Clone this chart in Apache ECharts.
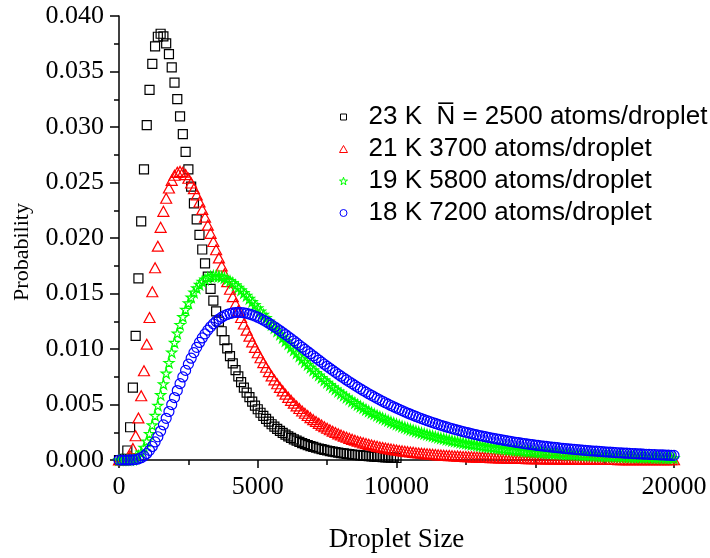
<!DOCTYPE html>
<html>
<head>
<meta charset="utf-8">
<script src="https://cdn.jsdelivr.net/npm/echarts@6/dist/echarts.min.js"></script>
<style>
  html, body { margin: 0; padding: 0; background: #fff; }
  #chart { width: 710px; height: 558px; }
</style>
</head>
<body>
<div id="chart"></div>
<script>
// Droplet size axis (atoms), sampled every 100 atoms
const dropletSize = [
  0,100,200,300,400,500,600,700,800,900,1000,1100,1200,1300,1400,1500,1600,1700,1800,1900,
  2000,2100,2200,2300,2400,2500,2600,2700,2800,2900,3000,3100,3200,3300,3400,3500,3600,3700,3800,3900,
  4000,4100,4200,4300,4400,4500,4600,4700,4800,4900,5000,5100,5200,5300,5400,5500,5600,5700,5800,5900,
  6000,6100,6200,6300,6400,6500,6600,6700,6800,6900,7000,7100,7200,7300,7400,7500,7600,7700,7800,7900,
  8000,8100,8200,8300,8400,8500,8600,8700,8800,8900,9000,9100,9200,9300,9400,9500,9600,9700,9800,9900,
  10000,10100,10200,10300,10400,10500,10600,10700,10800,10900,11000,11100,11200,11300,11400,11500,11600,11700,11800,11900,
  12000,12100,12200,12300,12400,12500,12600,12700,12800,12900,13000,13100,13200,13300,13400,13500,13600,13700,13800,13900,
  14000,14100,14200,14300,14400,14500,14600,14700,14800,14900,15000,15100,15200,15300,15400,15500,15600,15700,15800,15900,
  16000,16100,16200,16300,16400,16500,16600,16700,16800,16900,17000,17100,17200,17300,17400,17500,17600,17700,17800,17900,
  18000,18100,18200,18300,18400,18500,18600,18700,18800,18900,19000,19100,19200,19300,19400,19500,19600,19700,19800,19900,
  20000
];

// 23 K source, mean 2500 atoms/droplet (0 .. 10000)
const prob23K = [
  0,0,0.000099,0.000856,0.002952,0.006527,0.011191,0.016364,0.021495,0.026178,
  0.030163,0.033342,0.035692,0.037263,0.038132,0.0384,0.038166,0.037527,0.036571,0.035375,
  0.034006,0.032519,0.030959,0.029364,0.027762,0.026177,0.024625,0.023121,0.021672,0.020284,
  0.018964,0.017711,0.016527,0.015413,0.014365,0.013381,0.012461,0.0116,0.010797,0.010048,
  0.00935,0.0087,0.008096,0.007534,0.007011,0.006526,0.006075,0.005656,0.005267,0.004906,
  0.00457,0.004259,0.003969,0.003701,0.003451,0.00322,0.003004,0.002804,0.002618,0.002445,
  0.002285,0.002135,0.001996,0.001867,0.001746,0.001634,0.001529,0.001432,0.001341,0.001257,
  0.001178,0.001104,0.001036,0.000972,0.000912,0.000856,0.000804,0.000755,0.000709,0.000667,
  0.000627,0.00059,0.000555,0.000522,0.000492,0.000463,0.000436,0.000411,0.000387,0.000365,
  0.000344,0.000325,0.000306,0.000289,0.000273,0.000258,0.000243,0.00023,0.000217,0.000206,
  0.000195
];

// 21 K source, 3700 atoms/droplet
const prob21K = [
  0,0,0.000006,0.000077,0.000364,0.001036,0.00218,0.003791,0.005786,0.008044,
  0.010436,0.01284,0.01516,0.017317,0.019262,0.020962,0.022403,0.023582,0.024507,0.025192,
  0.025656,0.025918,0.026,0.025925,0.025712,0.025383,0.024956,0.024447,0.023872,0.023243,
  0.022575,0.021876,0.021156,0.020423,0.019685,0.018944,0.018209,0.017482,0.016767,0.016067,
  0.015383,0.014717,0.014071,0.013445,0.01284,0.012257,0.011695,0.011155,0.010637,0.01014,
  0.009664,0.009208,0.008772,0.008356,0.007957,0.007577,0.007215,0.00687,0.006541,0.006228,
  0.00593,0.005645,0.005375,0.005118,0.004873,0.00464,0.004419,0.004208,0.004007,0.003817,
  0.003636,0.003464,0.0033,0.003144,0.002997,0.002856,0.002722,0.002595,0.002474,0.002359,
  0.00225,0.002146,0.002047,0.001953,0.001863,0.001778,0.001697,0.00162,0.001547,0.001477,
  0.001411,0.001347,0.001287,0.00123,0.001175,0.001123,0.001073,0.001026,0.000981,0.000938,
  0.000897,0.000858,0.000821,0.000786,0.000752,0.00072,0.000689,0.00066,0.000632,0.000605,
  0.00058,0.000555,0.000532,0.00051,0.000489,0.000468,0.000449,0.000431,0.000413,0.000396,
  0.00038,0.000364,0.00035,0.000336,0.000322,0.000309,0.000297,0.000285,0.000274,0.000263,
  0.000253,0.000243,0.000233,0.000224,0.000215,0.000207,0.000199,0.000191,0.000184,0.000177,
  0.00017,0.000164,0.000158,0.000152,0.000146,0.00014,0.000135,0.00013,0.000125,0.000121,
  0.000116,0.000112,0.000108,0.000104,0.0001,0.000096,0.000093,0.00009,0.000086,0.000083,
  0.00008,0.000077,0.000075,0.000072,0.000069,0.000067,0.000065,0.000062,0.00006,0.000058,
  0.000056,0.000054,0.000052,0.00005,0.000049,0.000047,0.000045,0.000044,0.000042,0.000041,
  0.00004,0.000038,0.000037,0.000036,0.000035,0.000033,0.000032,0.000031,0.00003,0.000029,
  0.000028,0.000027,0.000026,0.000026,0.000025,0.000024,0.000023,0.000022,0.000022,0.000021,
  0.00002
];

// 19 K source, 5800 atoms/droplet
const prob19K = [
  0,0,0,0.000002,0.000018,0.000066,0.000178,0.00038,0.000695,0.001132,
  0.001692,0.002367,0.003142,0.003997,0.004913,0.005867,0.00684,0.007813,0.008769,0.009695,
  0.010579,0.011413,0.01219,0.012904,0.013554,0.014137,0.014653,0.015102,0.015487,0.015809,
  0.016072,0.016277,0.016429,0.016531,0.016587,0.016599,0.016572,0.016509,0.016412,0.016287,
  0.016134,0.015958,0.01576,0.015544,0.015312,0.015065,0.014807,0.014538,0.014261,0.013977,
  0.013688,0.013395,0.013099,0.012801,0.012503,0.012204,0.011906,0.01161,0.011316,0.011025,
  0.010737,0.010453,0.010172,0.009896,0.009625,0.009358,0.009096,0.00884,0.008589,0.008343,
  0.008102,0.007868,0.007638,0.007415,0.007196,0.006984,0.006776,0.006574,0.006378,0.006187,
  0.006001,0.00582,0.005645,0.005474,0.005308,0.005147,0.00499,0.004838,0.004691,0.004548,
  0.004409,0.004274,0.004144,0.004017,0.003894,0.003775,0.00366,0.003548,0.00344,0.003335,
  0.003233,0.003134,0.003038,0.002946,0.002856,0.002769,0.002685,0.002603,0.002524,0.002448,
  0.002374,0.002302,0.002232,0.002165,0.0021,0.002037,0.001976,0.001916,0.001859,0.001803,
  0.001749,0.001697,0.001647,0.001598,0.00155,0.001504,0.00146,0.001417,0.001375,0.001335,
  0.001296,0.001257,0.001221,0.001185,0.001151,0.001117,0.001085,0.001053,0.001023,0.000993,
  0.000965,0.000937,0.00091,0.000884,0.000859,0.000834,0.00081,0.000787,0.000765,0.000743,
  0.000722,0.000702,0.000682,0.000663,0.000645,0.000627,0.000609,0.000592,0.000576,0.00056,
  0.000544,0.000529,0.000515,0.000501,0.000487,0.000474,0.000461,0.000448,0.000436,0.000424,
  0.000413,0.000402,0.000391,0.00038,0.00037,0.00036,0.00035,0.000341,0.000332,0.000323,
  0.000315,0.000306,0.000298,0.00029,0.000283,0.000275,0.000268,0.000261,0.000254,0.000248,
  0.000241,0.000235,0.000229,0.000223,0.000217,0.000212,0.000206,0.000201,0.000196,0.000191,
  0.000186
];

// 18 K source, 7200 atoms/droplet
const prob18K = [
  0,0,0,0,0.000003,0.000015,0.000045,0.000105,0.000209,0.000366,
  0.000585,0.000868,0.001216,0.001626,0.002093,0.002609,0.003166,0.003755,0.004368,0.004994,
  0.005626,0.006256,0.006878,0.007485,0.008072,0.008635,0.009171,0.009677,0.01015,0.01059,
  0.010995,0.011365,0.0117,0.012,0.012265,0.012498,0.012698,0.012866,0.013005,0.013115,
  0.013198,0.013256,0.013289,0.0133,0.01329,0.01326,0.013211,0.013146,0.013066,0.012971,
  0.012863,0.012743,0.012613,0.012473,0.012324,0.012168,0.012005,0.011836,0.011661,0.011482,
  0.0113,0.011114,0.010926,0.010736,0.010544,0.010351,0.010157,0.009964,0.00977,0.009577,
  0.009385,0.009193,0.009003,0.008815,0.008628,0.008443,0.00826,0.00808,0.007901,0.007725,
  0.007552,0.007381,0.007213,0.007048,0.006885,0.006725,0.006568,0.006414,0.006263,0.006115,
  0.00597,0.005827,0.005687,0.005551,0.005417,0.005286,0.005158,0.005033,0.00491,0.00479,
  0.004673,0.004559,0.004447,0.004337,0.004231,0.004126,0.004025,0.003925,0.003828,0.003733,
  0.003641,0.003551,0.003463,0.003377,0.003293,0.003211,0.003132,0.003054,0.002978,0.002904,
  0.002832,0.002762,0.002694,0.002627,0.002562,0.002498,0.002437,0.002376,0.002317,0.00226,
  0.002204,0.00215,0.002097,0.002045,0.001995,0.001946,0.001898,0.001852,0.001806,0.001762,
  0.001719,0.001677,0.001636,0.001596,0.001557,0.001519,0.001482,0.001446,0.001411,0.001377,
  0.001344,0.001311,0.00128,0.001249,0.001219,0.00119,0.001161,0.001133,0.001106,0.00108,
  0.001054,0.001029,0.001004,0.00098,0.000957,0.000935,0.000912,0.000891,0.00087,0.00085,
  0.00083,0.00081,0.000791,0.000773,0.000755,0.000737,0.00072,0.000703,0.000687,0.000671,
  0.000655,0.00064,0.000626,0.000611,0.000597,0.000583,0.00057,0.000557,0.000544,0.000532,
  0.00052,0.000508,0.000497,0.000485,0.000474,0.000464,0.000453,0.000443,0.000433,0.000424,
  0.000414
];

const seriesNames = [
  '23 K  N\u0305 = 2500 atoms/droplet',
  '21 K 3700 atoms/droplet',
  '19 K 5800 atoms/droplet',
  '18 K 7200 atoms/droplet'
];
const yTicks = [0, 0.005, 0.010, 0.015, 0.020, 0.025, 0.030, 0.035, 0.040];

const starPath = 'path://M50,0 L61.2,34.5 L97.6,34.5 L68.2,55.9 L79.4,90.5 L50,69.1 L20.6,90.5 L31.8,55.9 L2.4,34.5 L38.8,34.5 Z';

function pairs(ys) {
  return ys.map((y, i) => [dropletSize[i], y]);
}

const serif = "'Liberation Serif', 'Times New Roman', serif";
const sans = "'Liberation Sans', Arial, sans-serif";

const styles = [
  { symbol: 'rect', size: 9, legendSize: [6, 6], color: '#000000', data: prob23K },
  { symbol: 'triangle', size: [11, 10], legendSize: [8, 7], color: '#ff0000', data: prob21K },
  { symbol: starPath, size: 10, legendSize: [8, 8], color: '#00ff00', data: prob19K },
  { symbol: 'circle', size: 10, legendSize: [7, 7], color: '#0000ff', data: prob18K }
];

const chart = echarts.init(document.getElementById('chart'), null, { renderer: 'canvas' });

chart.setOption({
  animation: false,
  backgroundColor: '#ffffff',
  grid: { left: 119, right: 36, top: 16, bottom: 93, containLabel: false },
  // vertical y-axis title, set slightly below the axis midpoint
  graphic: [{
    type: 'text',
    x: 22, y: 252,
    rotation: Math.PI / 2,
    style: {
      text: 'Probability',
      fontFamily: serif, fontSize: 22, fill: '#000',
      textAlign: 'center', textVerticalAlign: 'middle'
    }
  }],
  xAxis: {
    type: 'value',
    min: 0, max: 20000, interval: 5000,
    name: 'Droplet Size',
    nameLocation: 'middle',
    nameGap: 66,
    nameTextStyle: { fontFamily: serif, fontSize: 27, color: '#000' },
    axisLine: { show: true, lineStyle: { color: '#000', width: 1.5 } },
    axisTick: { show: true, length: 8, lineStyle: { color: '#000', width: 1.5 } },
    minorTick: { show: true, splitNumber: 2, length: 5, lineStyle: { color: '#000', width: 1.5 } },
    splitLine: { show: false },
    axisLabel: {
      fontFamily: serif, fontSize: 26, color: '#000', margin: 14,
      formatter: v => String(v)
    }
  },
  yAxis: {
    type: 'value',
    min: yTicks[0], max: yTicks[yTicks.length - 1], interval: 0.005,
    axisLine: { show: true, lineStyle: { color: '#000', width: 1.5 } },
    axisTick: { show: true, length: 9, lineStyle: { color: '#000', width: 1.5 } },
    minorTick: { show: true, splitNumber: 2, length: 5, lineStyle: { color: '#000', width: 1.5 } },
    splitLine: { show: false },
    axisLabel: {
      fontFamily: serif, fontSize: 26, color: '#000', margin: 15,
      formatter: v => v.toFixed(3)
    }
  },
  legend: styles.map((s, i) => ({
    orient: 'vertical',
    left: 338 - s.legendSize[0] / 2,
    top: 99 + i * 32,
    itemWidth: s.legendSize[0],
    itemHeight: s.legendSize[1],
    selectedMode: false,
    textStyle: {
      fontFamily: sans, fontSize: 26, color: '#000',
      padding: [0, 0, 0, 25 - s.legendSize[0] / 2 - 5]
    },
    data: [{
      name: seriesNames[i],
      icon: s.symbol,
      itemStyle: { color: 'transparent', borderColor: s.color, borderWidth: 1 }
    }]
  })),
  series: styles.map((s, i) => ({
    type: 'scatter',
    name: seriesNames[i],
    symbol: s.symbol,
    symbolSize: s.size,
    clip: false,
    itemStyle: { color: 'transparent', borderColor: s.color, borderWidth: 1.2, opacity: 1 },
    emphasis: { disabled: true },
    data: pairs(s.data)
  }))
});
</script>
</body>
</html>
